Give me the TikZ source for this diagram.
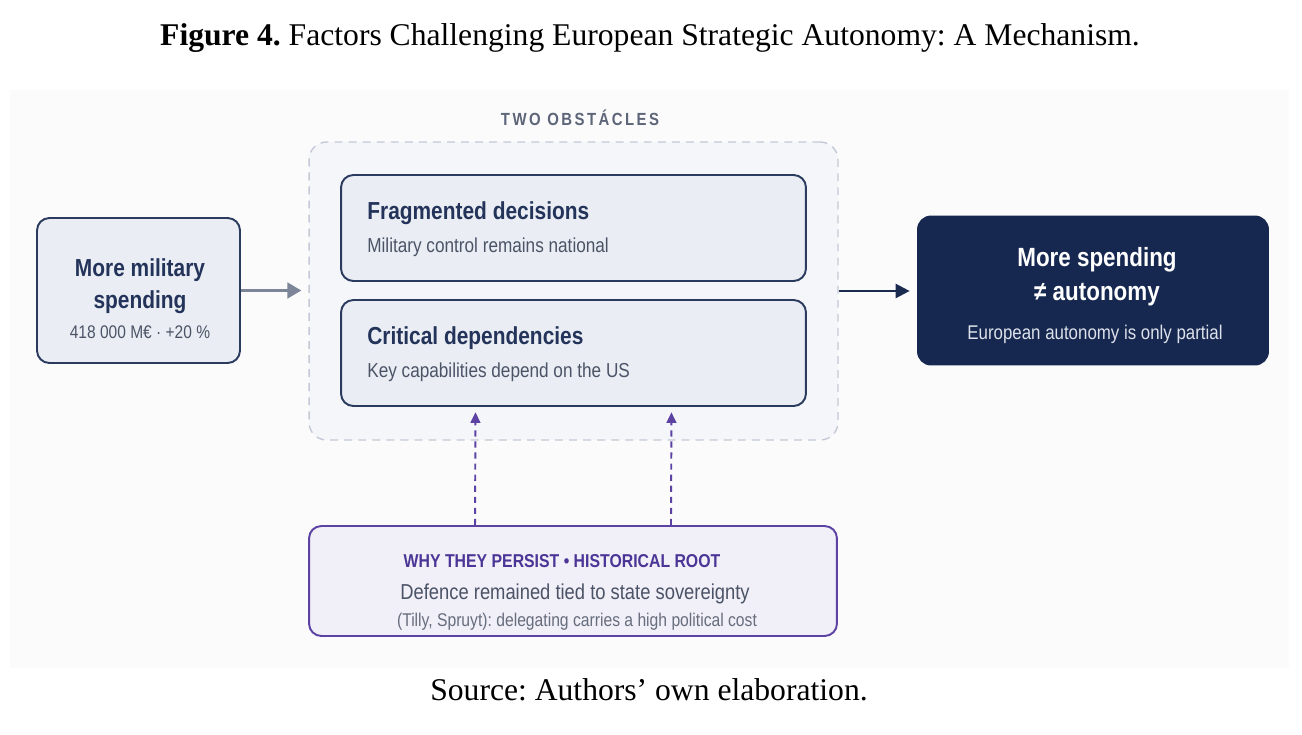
\documentclass[tikz,border=0pt]{standalone}
\usepackage{fontspec}
\setmainfont{Liberation Serif}
\newfontfamily\diagfont[FakeStretch=0.85]{Liberation Sans}
\usepackage{tikz}
\usetikzlibrary{arrows.meta,positioning}
\definecolor{pagebg}{HTML}{FBFBFC}
\definecolor{cardfill}{HTML}{EAEEF4}
\definecolor{navyline}{HTML}{2B3B5E}
\definecolor{navytext}{HTML}{23335A}
\definecolor{subgray}{HTML}{4B5366}
\definecolor{groupline}{HTML}{C3C9D6}
\definecolor{groupfill}{HTML}{F5F6FA}
\definecolor{darkfill}{HTML}{172850}
\definecolor{darksub}{HTML}{DDE2EA}
\definecolor{rootline}{HTML}{5C43A3}
\definecolor{rootfill}{HTML}{F1EFF8}
\definecolor{roottext}{HTML}{4B3596}
\definecolor{arrowgray}{HTML}{7C8698}
\definecolor{arrownavy}{HTML}{1B2B50}
\definecolor{labelgray}{HTML}{5D6578}
\frenchspacing

\begin{document}
\begin{tikzpicture}[x=0.02cm,y=-0.02cm,
  card/.style={draw=navyline,fill=cardfill,line width=1.1pt,rounded corners=7pt,inner sep=0pt},
  txt/.style={inner sep=0pt,anchor=base,font=\diagfont},
  head/.style={txt,text=navytext,font=\diagfont\bfseries\fontsize{14}{16}\selectfont},
  sub/.style={txt,text=subgray,font=\diagfont\fontsize{11.5}{14}\selectfont}]
  \useasboundingbox (0,0) rectangle (1302,734);
  \fill[pagebg] (10,90) rectangle (1289,668);
  \node[anchor=base] (title) at (650,45) {\fontsize{18}{22}\selectfont\textbf{Figure 4.} Factors Challenging European Strategic Autonomy: A Mechanism.};
  \node[anchor=base] (source) at (649,700) {\fontsize{18}{22}\selectfont Source: Authors’ own elaboration.};

  % input
  \node[card,minimum width=4.06cm,minimum height=2.9cm] (mil) at (138.5,290.5) {};
  \node[head] (milA) at (140,276) {More military};
  \node[head] (milB) at (140,308) {spending};
  \node[txt,text=subgray,font=\diagfont\fontsize{10.4}{12}\selectfont] (milC) at (140,338.5) {418 000 M€ · +20 \%};

  % obstacles
  \node[draw=groupline,fill=groupfill,line width=0.8pt,dash pattern=on 4.5pt off 3.5pt,rounded corners=10pt,minimum width=10.58cm,minimum height=5.96cm] (obst) at (573.5,291) {};
  \node[txt,text=labelgray,font=\diagfont\bfseries\fontsize{10}{12}\selectfont\addfontfeature{LetterSpace=14}] (obstlabel) at (580,125) {TWO OBSTÁCLES};
  \node[card,minimum width=9.3cm,minimum height=2.12cm] (frag) at (573.5,228) {};
  \node[head,anchor=base west] (fragA) at (367,219) {Fragmented decisions};
  \node[sub,anchor=base west] (fragB) at (367,252) {Military control remains national};
  \node[card,minimum width=9.3cm,minimum height=2.12cm] (crit) at (573.5,353) {};
  \node[head,anchor=base west] (critA) at (367,344) {Critical dependencies};
  \node[sub,anchor=base west] (critB) at (367,377.5) {Key capabilities depend on the US};

  % outcome
  \node[fill=darkfill,rounded corners=8pt,minimum width=7.04cm,minimum height=3cm] (auto) at (1093,290.5) {};
  \node[txt,text=white,font=\diagfont\bfseries\fontsize{15}{18}\selectfont] (autoA) at (1097,266) {More spending};
  \node[txt,text=white,font=\diagfont\bfseries\fontsize{15}{18}\selectfont] (autoB) at (1097,300) {≠ autonomy};
  \node[txt,text=darksub,font=\diagfont\fontsize{11.3}{14}\selectfont] (autoC) at (1095,339) {European autonomy is only partial};

  % root
  \node[draw=rootline,fill=rootfill,line width=1.1pt,rounded corners=7pt,minimum width=10.56cm,minimum height=2.2cm] (root) at (573,581) {};
  \node[txt,text=roottext,font=\diagfont\bfseries\fontsize{10.6}{13}\selectfont] (rootA) at (562,567.5) {WHY THEY PERSIST • HISTORICAL ROOT};
  \node[txt,text=subgray,font=\diagfont\fontsize{12.3}{14}\selectfont] (rootB) at (575,599) {Defence remained tied to state sovereignty};
  \node[txt,text=subgray!85,font=\diagfont\fontsize{10.5}{12}\selectfont] (rootC) at (577,626.5) {(Tilly, Spruyt): delegating carries a high political cost};

  % connectors
  \draw[arrowgray,line width=1.5pt,shorten >=4pt,-{Triangle[length=8pt,width=9pt]}] (mil.east) -- (mil.east -| obst.west);
  \draw[arrownavy,line width=1.4pt,shorten >=4pt,-{Triangle[length=8pt,width=8pt]}] (obst.east) -- (obst.east -| auto.west);
  \foreach \dx in {-1.96cm,1.96cm}
    \draw[rootline,line width=1.1pt,dash pattern=on 3.5pt off 2.8pt,shorten >=3pt,-{Triangle[length=6pt,width=5.5pt]}] ([xshift=\dx]root.north) -- ([xshift=\dx]crit.south);
\end{tikzpicture}
\end{document}
